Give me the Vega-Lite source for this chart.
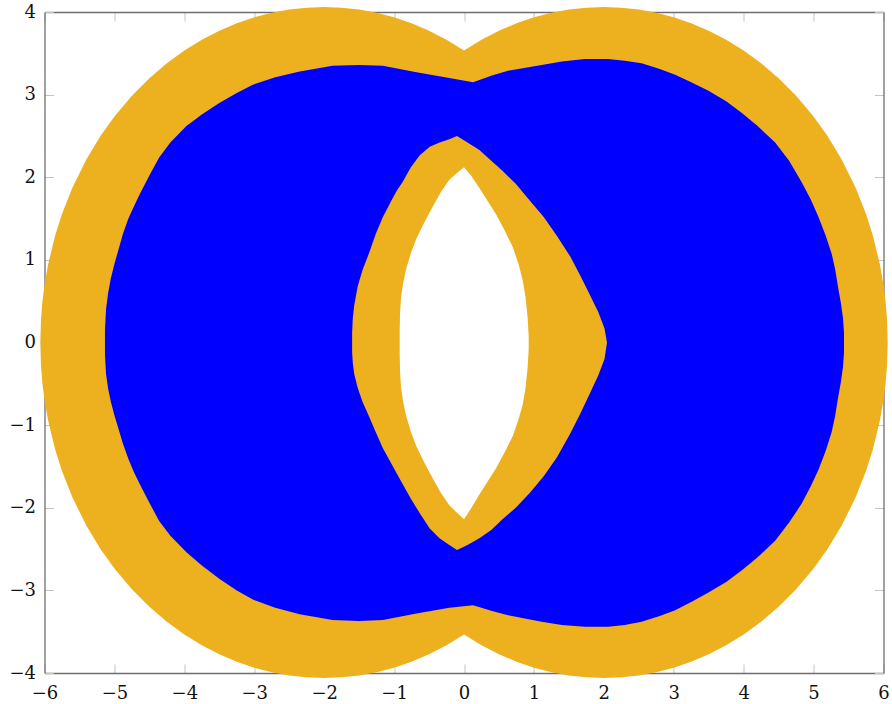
{
  "$schema": "https://vega.github.io/schema/vega-lite/v6.json",
  "width": 839,
  "height": 661,
  "autosize": "none",
  "padding": {"left": 44.5, "top": 12, "right": 8.5, "bottom": 31},
  "background": "white",
  "config": {
    "view": {"stroke": null},
    "axis": {
      "grid": false,
      "tickSize": -9,
      "tickColor": "#c4c4c4",
      "tickWidth": 1,
      "domainColor": "#6e6e6e",
      "domainWidth": 1.3,
      "labelFont": "DejaVu Serif",
      "labelFontSize": 18,
      "labelColor": "#111111",
      "labelFlush": false,
      "labelOverlap": false,
      "title": null
    }
  },
  "datasets": {
    "outer": [
      {"x": -6.06, "top": 0.0, "bot": 0.0},
      {"x": -6.05, "top": 0.285, "bot": -0.285},
      {"x": -6.03, "top": 0.493, "bot": -0.493},
      {"x": -6.0, "top": 0.695, "bot": -0.695},
      {"x": -5.95, "top": 0.939, "bot": -0.939},
      {"x": -5.85, "top": 1.289, "bot": -1.289},
      {"x": -5.75, "top": 1.556, "bot": -1.556},
      {"x": -5.6, "top": 1.877, "bot": -1.877},
      {"x": -5.4, "top": 2.219, "bot": -2.219},
      {"x": -5.2, "top": 2.499, "bot": -2.499},
      {"x": -5.0, "top": 2.736, "bot": -2.736},
      {"x": -4.75, "top": 2.987, "bot": -2.987},
      {"x": -4.5, "top": 3.199, "bot": -3.199},
      {"x": -4.25, "top": 3.380, "bot": -3.380},
      {"x": -4.0, "top": 3.533, "bot": -3.533},
      {"x": -3.75, "top": 3.664, "bot": -3.664},
      {"x": -3.5, "top": 3.773, "bot": -3.773},
      {"x": -3.25, "top": 3.863, "bot": -3.863},
      {"x": -3.0, "top": 3.935, "bot": -3.935},
      {"x": -2.75, "top": 3.990, "bot": -3.990},
      {"x": -2.5, "top": 4.029, "bot": -4.029},
      {"x": -2.25, "top": 4.052, "bot": -4.052},
      {"x": -2.0, "top": 4.060, "bot": -4.060},
      {"x": -1.75, "top": 4.052, "bot": -4.052},
      {"x": -1.5, "top": 4.029, "bot": -4.029},
      {"x": -1.25, "top": 3.990, "bot": -3.990},
      {"x": -1.0, "top": 3.935, "bot": -3.935},
      {"x": -0.75, "top": 3.863, "bot": -3.863},
      {"x": -0.5, "top": 3.773, "bot": -3.773},
      {"x": -0.25, "top": 3.664, "bot": -3.664},
      {"x": 0.0, "top": 3.533, "bot": -3.533},
      {"x": 0.25, "top": 3.664, "bot": -3.664},
      {"x": 0.5, "top": 3.773, "bot": -3.773},
      {"x": 0.75, "top": 3.863, "bot": -3.863},
      {"x": 1.0, "top": 3.935, "bot": -3.935},
      {"x": 1.25, "top": 3.990, "bot": -3.990},
      {"x": 1.5, "top": 4.029, "bot": -4.029},
      {"x": 1.75, "top": 4.052, "bot": -4.052},
      {"x": 2.0, "top": 4.060, "bot": -4.060},
      {"x": 2.25, "top": 4.052, "bot": -4.052},
      {"x": 2.5, "top": 4.029, "bot": -4.029},
      {"x": 2.75, "top": 3.990, "bot": -3.990},
      {"x": 3.0, "top": 3.935, "bot": -3.935},
      {"x": 3.25, "top": 3.863, "bot": -3.863},
      {"x": 3.5, "top": 3.773, "bot": -3.773},
      {"x": 3.75, "top": 3.664, "bot": -3.664},
      {"x": 4.0, "top": 3.533, "bot": -3.533},
      {"x": 4.25, "top": 3.380, "bot": -3.380},
      {"x": 4.5, "top": 3.199, "bot": -3.199},
      {"x": 4.75, "top": 2.987, "bot": -2.987},
      {"x": 5.0, "top": 2.736, "bot": -2.736},
      {"x": 5.2, "top": 2.499, "bot": -2.499},
      {"x": 5.4, "top": 2.219, "bot": -2.219},
      {"x": 5.6, "top": 1.877, "bot": -1.877},
      {"x": 5.75, "top": 1.556, "bot": -1.556},
      {"x": 5.85, "top": 1.289, "bot": -1.289},
      {"x": 5.95, "top": 0.939, "bot": -0.939},
      {"x": 6.0, "top": 0.695, "bot": -0.695},
      {"x": 6.03, "top": 0.493, "bot": -0.493},
      {"x": 6.05, "top": 0.285, "bot": -0.285},
      {"x": 6.06, "top": 0.0, "bot": 0.0}
    ],
    "blue": [
      {"x": -5.135, "top": 0.15, "bot": -0.15},
      {"x": -5.12, "top": 0.40, "bot": -0.38},
      {"x": -5.09, "top": 0.60, "bot": -0.56},
      {"x": -5.05, "top": 0.78, "bot": -0.72},
      {"x": -5.0, "top": 0.95, "bot": -0.88},
      {"x": -4.94, "top": 1.13, "bot": -1.05},
      {"x": -4.88, "top": 1.31, "bot": -1.22},
      {"x": -4.8, "top": 1.50, "bot": -1.41},
      {"x": -4.72, "top": 1.65, "bot": -1.57},
      {"x": -4.64, "top": 1.79, "bot": -1.71},
      {"x": -4.5, "top": 2.02, "bot": -1.94},
      {"x": -4.36, "top": 2.24, "bot": -2.16},
      {"x": -4.2, "top": 2.42, "bot": -2.34},
      {"x": -3.97, "top": 2.62, "bot": -2.54},
      {"x": -3.75, "top": 2.76, "bot": -2.70},
      {"x": -3.5, "top": 2.90, "bot": -2.86},
      {"x": -3.25, "top": 3.02, "bot": -3.00},
      {"x": -3.02, "top": 3.12, "bot": -3.11},
      {"x": -2.7, "top": 3.21, "bot": -3.21},
      {"x": -2.35, "top": 3.28, "bot": -3.29},
      {"x": -1.88, "top": 3.35, "bot": -3.36},
      {"x": -1.5, "top": 3.36, "bot": -3.37},
      {"x": -1.16, "top": 3.35, "bot": -3.36},
      {"x": -0.68, "top": 3.27, "bot": -3.28},
      {"x": -0.21, "top": 3.20, "bot": -3.21},
      {"x": 0.13, "top": 3.15, "bot": -3.18},
      {"x": 0.4, "top": 3.23, "bot": -3.25},
      {"x": 0.63, "top": 3.29, "bot": -3.30},
      {"x": 1.11, "top": 3.36, "bot": -3.38},
      {"x": 1.4, "top": 3.40, "bot": -3.42},
      {"x": 1.73, "top": 3.43, "bot": -3.44},
      {"x": 2.06, "top": 3.43, "bot": -3.44},
      {"x": 2.3, "top": 3.41, "bot": -3.42},
      {"x": 2.54, "top": 3.38, "bot": -3.38},
      {"x": 2.8, "top": 3.31, "bot": -3.31},
      {"x": 3.02, "top": 3.24, "bot": -3.24},
      {"x": 3.25, "top": 3.15, "bot": -3.14},
      {"x": 3.49, "top": 3.05, "bot": -3.03},
      {"x": 3.75, "top": 2.92, "bot": -2.90},
      {"x": 3.97, "top": 2.78, "bot": -2.76},
      {"x": 4.2, "top": 2.62, "bot": -2.60},
      {"x": 4.45, "top": 2.42, "bot": -2.40},
      {"x": 4.65, "top": 2.20, "bot": -2.18},
      {"x": 4.83, "top": 1.94, "bot": -1.95},
      {"x": 4.96, "top": 1.73, "bot": -1.74},
      {"x": 5.07, "top": 1.52, "bot": -1.54},
      {"x": 5.17, "top": 1.30, "bot": -1.32},
      {"x": 5.26, "top": 1.07, "bot": -1.08},
      {"x": 5.31, "top": 0.88, "bot": -0.88},
      {"x": 5.35, "top": 0.67, "bot": -0.67},
      {"x": 5.39, "top": 0.48, "bot": -0.48},
      {"x": 5.42, "top": 0.30, "bot": -0.30},
      {"x": 5.435, "top": 0.12, "bot": -0.12}
    ],
    "lens": [
      {"x": -1.6, "top": 0.12, "bot": -0.12},
      {"x": -1.59, "top": 0.30, "bot": -0.25},
      {"x": -1.57, "top": 0.45, "bot": -0.38},
      {"x": -1.52, "top": 0.68, "bot": -0.55},
      {"x": -1.45, "top": 0.88, "bot": -0.72},
      {"x": -1.35, "top": 1.10, "bot": -0.91},
      {"x": -1.26, "top": 1.32, "bot": -1.09},
      {"x": -1.16, "top": 1.52, "bot": -1.28},
      {"x": -1.03, "top": 1.73, "bot": -1.48},
      {"x": -0.96, "top": 1.84, "bot": -1.59},
      {"x": -0.88, "top": 1.94, "bot": -1.71},
      {"x": -0.76, "top": 2.12, "bot": -1.89},
      {"x": -0.63, "top": 2.27, "bot": -2.07},
      {"x": -0.49, "top": 2.37, "bot": -2.25},
      {"x": -0.35, "top": 2.42, "bot": -2.37},
      {"x": -0.21, "top": 2.46, "bot": -2.45},
      {"x": -0.1, "top": 2.50, "bot": -2.51},
      {"x": 0.05, "top": 2.42, "bot": -2.45},
      {"x": 0.22, "top": 2.33, "bot": -2.37},
      {"x": 0.39, "top": 2.20, "bot": -2.27},
      {"x": 0.55, "top": 2.08, "bot": -2.14},
      {"x": 0.74, "top": 1.92, "bot": -2.00},
      {"x": 0.94, "top": 1.72, "bot": -1.82},
      {"x": 1.14, "top": 1.52, "bot": -1.62},
      {"x": 1.33, "top": 1.29, "bot": -1.39},
      {"x": 1.52, "top": 1.04, "bot": -1.10},
      {"x": 1.67, "top": 0.80, "bot": -0.85},
      {"x": 1.81, "top": 0.56, "bot": -0.60},
      {"x": 1.92, "top": 0.37, "bot": -0.40},
      {"x": 2.01, "top": 0.17, "bot": -0.20},
      {"x": 2.045, "top": 0.0, "bot": 0.0}
    ],
    "hole": [
      {"x": -0.92, "top": 0.12, "bot": -0.12},
      {"x": -0.915, "top": 0.35, "bot": -0.35},
      {"x": -0.9, "top": 0.55, "bot": -0.55},
      {"x": -0.87, "top": 0.72, "bot": -0.72},
      {"x": -0.83, "top": 0.88, "bot": -0.88},
      {"x": -0.76, "top": 1.08, "bot": -1.08},
      {"x": -0.68, "top": 1.26, "bot": -1.26},
      {"x": -0.57, "top": 1.45, "bot": -1.45},
      {"x": -0.45, "top": 1.64, "bot": -1.64},
      {"x": -0.33, "top": 1.82, "bot": -1.82},
      {"x": -0.21, "top": 1.97, "bot": -1.97},
      {"x": -0.1, "top": 2.05, "bot": -2.06},
      {"x": 0.0, "top": 2.12, "bot": -2.14},
      {"x": 0.1, "top": 2.02, "bot": -2.01},
      {"x": 0.22, "top": 1.87, "bot": -1.84},
      {"x": 0.34, "top": 1.71, "bot": -1.68},
      {"x": 0.46, "top": 1.55, "bot": -1.52},
      {"x": 0.58, "top": 1.36, "bot": -1.33},
      {"x": 0.7, "top": 1.15, "bot": -1.13},
      {"x": 0.78, "top": 0.95, "bot": -0.93},
      {"x": 0.84, "top": 0.75, "bot": -0.75},
      {"x": 0.88, "top": 0.55, "bot": -0.55},
      {"x": 0.91, "top": 0.30, "bot": -0.30},
      {"x": 0.925, "top": 0.08, "bot": -0.08}
    ]
  },
  "layer": [
    {
      "data": {"name": "outer"},
      "mark": {"type": "area", "color": "#EDB120", "clip": false, "interpolate": "linear"},
      "encoding": {
        "x": {"field": "x", "type": "quantitative", "scale": {"domain": [-6, 6], "nice": false, "zero": false},
              "axis": {"orient": "bottom", "values": [-6,-5,-4,-3,-2,-1,0,1,2,3,4,5,6], "labelPadding": 20}},
        "y": {"field": "top", "type": "quantitative", "scale": {"domain": [-4, 4], "nice": false, "zero": false},
              "axis": {"orient": "left", "values": [-4,-3,-2,-1,0,1,2,3,4], "labelPadding": 18}},
        "y2": {"field": "bot"}
      }
    },
    {
      "data": {"name": "blue"},
      "mark": {"type": "area", "color": "#0000FF", "clip": false, "interpolate": "linear"},
      "encoding": {
        "x": {"field": "x", "type": "quantitative",
              "axis": {"orient": "top", "values": [-6,-5,-4,-3,-2,-1,0,1,2,3,4,5,6], "labels": false}},
        "y": {"field": "top", "type": "quantitative",
              "axis": {"orient": "right", "values": [-4,-3,-2,-1,0,1,2,3,4], "labels": false}},
        "y2": {"field": "bot"}
      }
    },
    {
      "data": {"name": "lens"},
      "mark": {"type": "area", "color": "#EDB120", "clip": false, "interpolate": "linear"},
      "encoding": {
        "x": {"field": "x", "type": "quantitative", "axis": null},
        "y": {"field": "top", "type": "quantitative", "axis": null},
        "y2": {"field": "bot"}
      }
    },
    {
      "data": {"name": "hole"},
      "mark": {"type": "area", "color": "#FFFFFF", "clip": false, "interpolate": "linear"},
      "encoding": {
        "x": {"field": "x", "type": "quantitative", "axis": null},
        "y": {"field": "top", "type": "quantitative", "axis": null},
        "y2": {"field": "bot"}
      }
    }
  ],
  "resolve": {"axis": {"x": "independent", "y": "independent"}}
}
